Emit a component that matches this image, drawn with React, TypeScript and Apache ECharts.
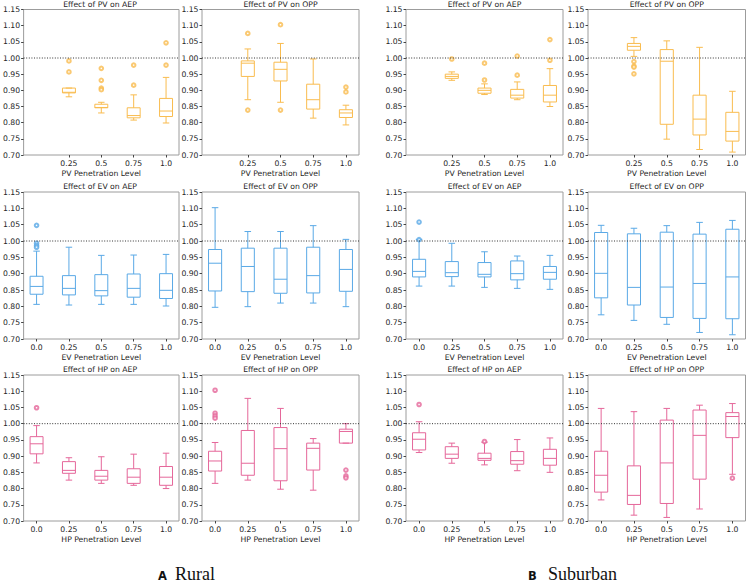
import React, { useEffect, useRef } from 'react';
import * as echarts from 'echarts';

type Box = [number, number, number, number, number]; // min, q1, median, q3, max

// Penetration levels shown on the x axes
const levels = ['0.0', '0.25', '0.5', '0.75', '1.0'];
const pvLevels = ['0.25', '0.5', '0.75', '1.0'];
const referenceLevel = 1.0;

// ---- Rural ----
const ruralPvAep: Box[] = [
  [0.880, 0.892, 0.894, 0.907, 0.907],
  [0.830, 0.846, 0.847, 0.857, 0.863],
  [0.808, 0.815, 0.822, 0.846, 0.886],
  [0.799, 0.819, 0.836, 0.875, 0.940],
];
const ruralPvAepOut = [[0.991, 0.957], [0.968, 0.931, 0.907, 0.902], [0.978, 0.916], [1.047, 0.978]];

const ruralPvOpp: Box[] = [
  [0.871, 0.943, 0.984, 0.991, 1.028],
  [0.863, 0.929, 0.965, 0.987, 1.045],
  [0.814, 0.842, 0.871, 0.919, 0.997],
  [0.793, 0.816, 0.830, 0.840, 0.854],
];
const ruralPvOppOut = [[1.076, 0.839], [1.103, 0.839], [], [0.910, 0.895]];

const ruralEvAep: Box[] = [
  [0.806, 0.837, 0.861, 0.892, 0.969],
  [0.804, 0.835, 0.855, 0.894, 0.981],
  [0.806, 0.832, 0.848, 0.897, 0.956],
  [0.806, 0.828, 0.855, 0.899, 0.957],
  [0.801, 0.824, 0.849, 0.900, 0.959],
];
const ruralEvAepOut = [[1.048, 0.993, 0.986, 0.981], [], [], [], []];

const ruralEvOpp: Box[] = [
  [0.797, 0.847, 0.932, 0.974, 1.102],
  [0.799, 0.845, 0.922, 0.978, 1.029],
  [0.810, 0.840, 0.883, 0.978, 1.029],
  [0.810, 0.841, 0.894, 0.981, 1.047],
  [0.799, 0.846, 0.913, 0.974, 1.005],
];
const ruralEvOppOut = [[], [], [], [], []];

const ruralHpAep: Box[] = [
  [0.879, 0.907, 0.938, 0.960, 0.994],
  [0.826, 0.847, 0.856, 0.883, 0.895],
  [0.816, 0.826, 0.838, 0.856, 0.898],
  [0.810, 0.816, 0.835, 0.861, 0.906],
  [0.800, 0.810, 0.835, 0.868, 0.909],
];
const ruralHpAepOut = [[1.049], [], [], [], []];

const ruralHpOpp: Box[] = [
  [0.816, 0.854, 0.885, 0.915, 0.942],
  [0.826, 0.841, 0.878, 0.979, 1.078],
  [0.798, 0.824, 0.923, 0.988, 1.047],
  [0.795, 0.857, 0.924, 0.940, 0.954],
  [0.940, 0.940, 0.976, 0.983, 1.000],
];
const ruralHpOppOut = [[1.103, 1.032, 1.024, 1.017], [], [], [], [0.857, 0.839, 0.833]];

// ---- Suburban ----
const suburbanPvAep: Box[] = [
  [0.931, 0.937, 0.943, 0.950, 0.957],
  [0.887, 0.891, 0.900, 0.907, 0.920],
  [0.871, 0.876, 0.885, 0.903, 0.926],
  [0.850, 0.864, 0.885, 0.915, 0.967],
];
const suburbanPvAepOut = [[0.997], [0.984, 0.932], [1.006, 0.947], [1.057, 0.993]];

const suburbanPvOpp: Box[] = [
  [1.005, 1.024, 1.036, 1.045, 1.063],
  [0.749, 0.795, 0.990, 1.026, 1.053],
  [0.717, 0.762, 0.811, 0.885, 1.033],
  [0.709, 0.743, 0.773, 0.832, 0.897],
];
const suburbanPvOppOut = [[0.989, 0.975, 0.972, 0.951], [], [], []];

const suburbanEvAep: Box[] = [
  [0.862, 0.890, 0.907, 0.944, 1.005],
  [0.862, 0.891, 0.903, 0.937, 0.993],
  [0.858, 0.890, 0.898, 0.934, 0.967],
  [0.855, 0.881, 0.900, 0.939, 0.954],
  [0.852, 0.883, 0.904, 0.922, 0.956],
];
const suburbanEvAepOut = [[1.058, 1.004], [], [], [], []];

const suburbanEvOpp: Box[] = [
  [0.774, 0.826, 0.901, 1.026, 1.048],
  [0.757, 0.804, 0.858, 1.022, 1.039],
  [0.745, 0.766, 0.859, 1.027, 1.047],
  [0.720, 0.763, 0.870, 1.021, 1.057],
  [0.713, 0.762, 0.890, 1.036, 1.063],
];
const suburbanEvOppOut = [[], [], [], [], []];

const suburbanHpAep: Box[] = [
  [0.911, 0.919, 0.952, 0.972, 1.006],
  [0.878, 0.893, 0.906, 0.929, 0.940],
  [0.873, 0.887, 0.893, 0.909, 0.943],
  [0.855, 0.875, 0.886, 0.914, 0.951],
  [0.850, 0.872, 0.893, 0.921, 0.956],
];
const suburbanHpAepOut = [[1.059], [], [0.945], [], []];

const suburbanHpOpp: Box[] = [
  [0.765, 0.789, 0.841, 0.915, 1.047],
  [0.718, 0.751, 0.779, 0.870, 1.037],
  [0.711, 0.754, 0.879, 1.011, 1.047],
  [0.737, 0.829, 0.964, 1.042, 1.057],
  [0.844, 0.957, 1.022, 1.034, 1.062],
];
const suburbanHpOppOut = [[], [], [], [], [0.832]];

const COLORS: Record<string, string> = { PV: '#F9BC4F', EV: '#5AA9E6', HP: '#E5679A' };
const FONT = 'DejaVu Sans';
const TEXT = '#262626';
const FS = 7.7;

// layout of the 3 x 4 grid of panels
const colLeft = [21, 202, 406, 588];
const colWidth = [158, 157, 157, 157.5];
const rowTop = [9.5, 192, 375];
const rowHeight = [145.5, 147, 146];

interface Panel {
  tech: 'PV' | 'EV' | 'HP';
  metric: 'AEP' | 'OPP';
  lv: string[];
  boxes: Box[];
  out: number[][];
  row: number;
  col: number;
}

const panels: Panel[] = [
  { tech: 'PV', metric: 'AEP', lv: pvLevels, boxes: ruralPvAep, out: ruralPvAepOut, row: 0, col: 0 },
  { tech: 'PV', metric: 'OPP', lv: pvLevels, boxes: ruralPvOpp, out: ruralPvOppOut, row: 0, col: 1 },
  { tech: 'PV', metric: 'AEP', lv: pvLevels, boxes: suburbanPvAep, out: suburbanPvAepOut, row: 0, col: 2 },
  { tech: 'PV', metric: 'OPP', lv: pvLevels, boxes: suburbanPvOpp, out: suburbanPvOppOut, row: 0, col: 3 },
  { tech: 'EV', metric: 'AEP', lv: levels, boxes: ruralEvAep, out: ruralEvAepOut, row: 1, col: 0 },
  { tech: 'EV', metric: 'OPP', lv: levels, boxes: ruralEvOpp, out: ruralEvOppOut, row: 1, col: 1 },
  { tech: 'EV', metric: 'AEP', lv: levels, boxes: suburbanEvAep, out: suburbanEvAepOut, row: 1, col: 2 },
  { tech: 'EV', metric: 'OPP', lv: levels, boxes: suburbanEvOpp, out: suburbanEvOppOut, row: 1, col: 3 },
  { tech: 'HP', metric: 'AEP', lv: levels, boxes: ruralHpAep, out: ruralHpAepOut, row: 2, col: 0 },
  { tech: 'HP', metric: 'OPP', lv: levels, boxes: ruralHpOpp, out: ruralHpOppOut, row: 2, col: 1 },
  { tech: 'HP', metric: 'AEP', lv: levels, boxes: suburbanHpAep, out: suburbanHpAepOut, row: 2, col: 2 },
  { tech: 'HP', metric: 'OPP', lv: levels, boxes: suburbanHpOpp, out: suburbanHpOppOut, row: 2, col: 3 },
];

const posOf = (label: string) => levels.indexOf(label) + 1;

// matplotlib-style box: box + median, whiskers with half-width caps
const makeBoxRenderer = (color: string) => (_params: any, api: any) => {
  const x = api.value(0);
  const v = [1, 2, 3, 4, 5].map((i) => api.value(i));
  const [cx, yMin] = api.coord([x, v[0]]);
  const yQ1 = api.coord([x, v[1]])[1];
  const yMed = api.coord([x, v[2]])[1];
  const yQ3 = api.coord([x, v[3]])[1];
  const yMax = api.coord([x, v[4]])[1];
  const half = api.size([0.4, 0])[0] / 2;
  const cap = half / 2;
  const st = { stroke: color, lineWidth: 1, fill: 'none' };
  const line = (x1: number, y1: number, x2: number, y2: number) => ({
    type: 'line',
    shape: { x1, y1, x2, y2 },
    style: st,
  });
  return {
    type: 'group',
    children: [
      line(cx, yQ1, cx, yMin),
      line(cx, yQ3, cx, yMax),
      line(cx - cap, yMin, cx + cap, yMin),
      line(cx - cap, yMax, cx + cap, yMax),
      {
        type: 'rect',
        shape: { x: cx - half, y: yQ3, width: half * 2, height: yQ1 - yQ3 },
        style: st,
      },
      line(cx - half, yMed, cx + half, yMed),
    ],
  };
};

function buildOption() {
  const grid: any[] = [];
  const xAxis: any[] = [];
  const yAxis: any[] = [];
  const series: any[] = [];
  const graphic: any[] = [];

  panels.forEach((p, i) => {
    const color = COLORS[p.tech];
    const left = colLeft[p.col];
    const width = colWidth[p.col];
    const top = rowTop[p.row];
    const height = rowHeight[p.row];
    const positions = p.lv.map(posOf);

    grid.push({ left, top, width, height, show: true, borderColor: '#9c9c9c', borderWidth: 1 });

    xAxis.push({
      type: 'value',
      gridIndex: i,
      min: 0.6,
      max: 5.4,
      name: `${p.tech} Penetration Level`,
      nameLocation: 'middle',
      nameGap: 14,
      nameTextStyle: { fontFamily: FONT, fontSize: FS, color: TEXT },
      axisLine: { show: false },
      splitLine: { show: false },
      axisTick: { show: true, customValues: positions, length: 2.5, lineStyle: { color: '#444' } },
      axisLabel: {
        customValues: positions,
        formatter: (val: number) => levels[Math.round(val) - 1],
        margin: 4,
        fontFamily: FONT,
        fontSize: FS,
        color: TEXT,
      },
    });

    yAxis.push({
      type: 'value',
      gridIndex: i,
      min: 0.7,
      max: 1.15,
      interval: 0.05,
      axisLine: { show: false },
      splitLine: { show: false },
      axisTick: { show: true, length: 2.5, lineStyle: { color: '#444' } },
      axisLabel: {
        formatter: (val: number) => val.toFixed(2),
        margin: 3.5,
        fontFamily: FONT,
        fontSize: FS,
        color: TEXT,
      },
    });

    series.push({
      type: 'custom',
      xAxisIndex: i,
      yAxisIndex: i,
      silent: true,
      clip: false,
      renderItem: makeBoxRenderer(color),
      encode: { x: 0, y: [1, 2, 3, 4, 5] },
      data: p.boxes.map((b, k) => [positions[k], ...b]),
    });

    const outliers: number[][] = [];
    p.out.forEach((vals, k) => vals.forEach((v) => outliers.push([positions[k], v])));
    series.push({
      type: 'scatter',
      xAxisIndex: i,
      yAxisIndex: i,
      silent: true,
      symbol: 'emptyCircle',
      symbolSize: 3.6,
      itemStyle: { color, borderColor: color, borderWidth: 0.8 },
      data: outliers,
    });

    // dotted reference at 1.0
    series.push({
      type: 'line',
      xAxisIndex: i,
      yAxisIndex: i,
      silent: true,
      symbol: 'none',
      lineStyle: { color: '#333', width: 1, type: [1, 1.6] },
      data: [
        [0.6, referenceLevel],
        [5.4, referenceLevel],
      ],
    });

    graphic.push({
      type: 'text',
      x: left + width / 2,
      y: top - 5.3,
      style: {
        text: `Effect of ${p.tech} on ${p.metric}`,
        align: 'center',
        verticalAlign: 'middle',
        fontFamily: FONT,
        fontSize: FS,
        fill: TEXT,
      },
    });
  });

  // group captions
  const captions = [
    { letter: 'A', lx: 158, word: 'Rural', wx: 175 },
    { letter: 'B', lx: 528, word: 'Suburban', wx: 548 },
  ];
  captions.forEach((c) => {
    graphic.push({
      type: 'text',
      x: c.lx,
      y: 575.5,
      style: {
        text: c.letter,
        align: 'left',
        verticalAlign: 'middle',
        fontFamily: FONT,
        fontWeight: 'bold',
        fontSize: 11.5,
        fill: '#111',
      },
    });
    graphic.push({
      type: 'text',
      x: c.wx,
      y: 574,
      style: {
        text: c.word,
        align: 'left',
        verticalAlign: 'middle',
        fontFamily: 'Liberation Serif',
        fontSize: 18,
        fill: '#111',
      },
    });
  });

  return {
    animation: false,
    backgroundColor: '#ffffff',
    grid,
    xAxis,
    yAxis,
    series,
    graphic,
  };
}

export default function App() {
  const ref = useRef<HTMLDivElement>(null);
  useEffect(() => {
    if (!ref.current) return;
    const chart = echarts.init(ref.current, undefined, { renderer: 'svg' });
    chart.setOption(buildOption() as any);
    return () => chart.dispose();
  }, []);
  return (
    <div
      ref={ref}
      style={{ position: 'fixed', left: 0, top: 0, width: 747, height: 585, background: '#fff' }}
    />
  );
}
